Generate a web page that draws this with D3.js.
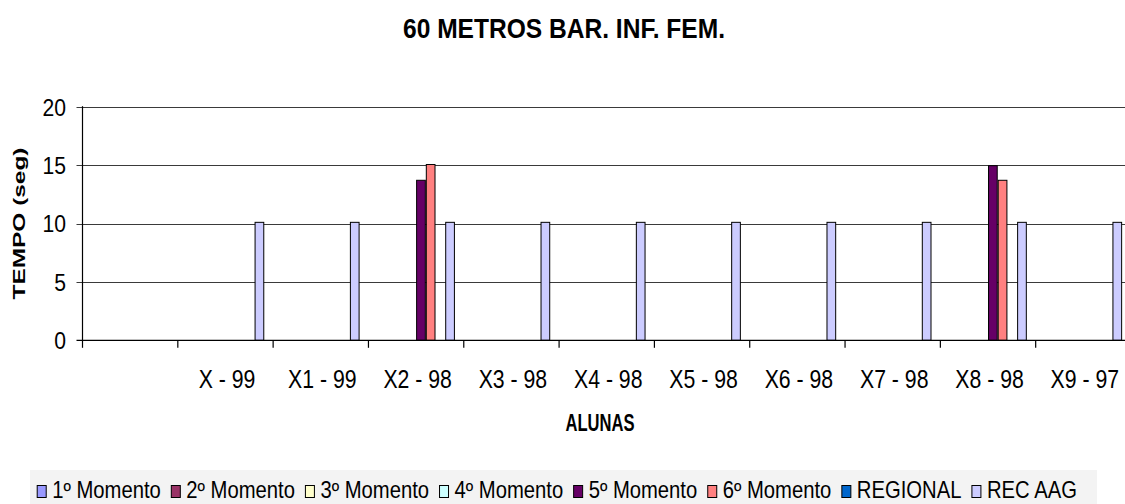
<!DOCTYPE html>
<html>
<head>
<meta charset="utf-8">
<title>60 METROS BAR. INF. FEM.</title>
<script src="https://d3js.org/d3.v7.min.js"></script>
<style>
body { margin: 0; background: #fff; }
text { font-family: 'Liberation Sans', Arial, sans-serif; fill: #000; }
</style>
</head>
<body>
<div id="chart"></div>
<script>
// data
var categories = ["", "X - 99", "X1 - 99", "X2 - 98", "X3 - 98", "X4 - 98", "X5 - 98", "X6 - 98", "X7 - 98", "X8 - 98", "X9 - 97"];
var seriesNames = ["1º Momento", "2º Momento", "3º Momento", "4º Momento", "5º Momento", "6º Momento", "REGIONAL", "REC AAG"];
var seriesColors = ["#9999ff", "#993366", "#ffffcc", "#ccffff", "#660066", "#ff8080", "#0066cc", "#ccccff"];
var m1 = [null, null, null, null, null, null, null, null, null, null, null];
var m2 = [null, null, null, null, null, null, null, null, null, null, null];
var m3 = [null, null, null, null, null, null, null, null, null, null, null];
var m4 = [null, null, null, null, null, null, null, null, null, null, null];
var m5 = [null, null, null, 13.7, null, null, null, null, null, 14.95, null];
var m6 = [null, null, null, 15.05, null, null, null, null, null, 13.7, null];
var regional = [null, null, null, null, null, null, null, null, null, null, null];
var recAAG = [null, 10.1, 10.1, 10.1, 10.1, 10.1, 10.1, 10.1, 10.1, 10.1, 10.1];
var yTicks = [0, 5, 10, 15, 20];

var seriesValues = [m1, m2, m3, m4, m5, m6, regional, recAAG];

var W = 1125, H = 504;
var plot = {left: 82.5, right: 1131, top: 106.7, bottom: 340.3};

var svg = d3.select("#chart").append("svg")
    .attr("width", W)
    .attr("height", H);

var x0 = d3.scaleBand().domain(d3.range(categories.length)).range([plot.left, plot.right]);
var gapHalf = x0.bandwidth() * 0.093;
var x1 = d3.scaleBand().domain(seriesNames).range([gapHalf, x0.bandwidth() - gapHalf]);
var y = d3.scaleLinear().domain([0, 20]).range([plot.bottom, plot.top]);

// title
svg.append("text")
    .attr("x", 564).attr("y", 38.3)
    .attr("text-anchor", "middle")
    .attr("font-size", 28).attr("font-weight", "bold")
    .attr("textLength", 322).attr("lengthAdjust", "spacingAndGlyphs")
    .text("60 METROS BAR. INF. FEM.");

// grid lines
svg.append("g")
  .selectAll("line")
  .data(yTicks.filter(d => d > 0))
  .join("line")
    .attr("x1", plot.left - 6).attr("x2", plot.right)
    .attr("y1", d => Math.round(y(d)) + 0.5).attr("y2", d => Math.round(y(d)) + 0.5)
    .attr("stroke", "#3a3a3a").attr("stroke-width", 1);

// y tick labels
svg.append("g")
  .selectAll("text")
  .data(yTicks)
  .join("text")
    .attr("transform", d => "translate(66," + (y(d) + 8.8) + ") scale(0.92,1)")
    .attr("text-anchor", "end")
    .attr("font-size", 23)
    .text(d => d);

// bars
var groups = svg.append("g")
  .selectAll("g")
  .data(categories)
  .join("g")
    .attr("transform", (d, i) => "translate(" + x0(i) + ",0)");

groups.selectAll("rect")
  .data((d, i) => seriesNames.map((s, j) => ({s: s, c: seriesColors[j], v: seriesValues[j][i]})).filter(b => b.v != null))
  .join("rect")
    .attr("x", b => x1(b.s) + 0.5)
    .attr("width", x1.bandwidth() - 1)
    .attr("y", b => y(b.v))
    .attr("height", b => y(0) - y(b.v))
    .attr("fill", b => b.c)
    .attr("stroke", "#000").attr("stroke-width", 1);

// axes lines
var ax = svg.append("g").attr("stroke", "#000").attr("stroke-width", 1.2);
ax.append("line")
    .attr("x1", plot.left).attr("x2", plot.left)
    .attr("y1", plot.top - 0.5).attr("y2", plot.bottom + 7.5);
ax.append("line")
    .attr("x1", plot.left - 6).attr("x2", plot.right)
    .attr("y1", plot.bottom).attr("y2", plot.bottom);
ax.append("g")
  .selectAll("line")
  .data(d3.range(1, categories.length + 1))
  .join("line")
    .attr("x1", i => i < categories.length ? x0(i) : plot.right)
    .attr("x2", i => i < categories.length ? x0(i) : plot.right)
    .attr("y1", plot.bottom).attr("y2", plot.bottom + 7.5);

// x labels
svg.append("g")
  .selectAll("text")
  .data(categories)
  .join("text")
    .attr("transform", (d, i) => "translate(" + (x0(i) + x0.bandwidth() / 2 + 1.5) + ",388.3) scale(0.85,1)")
    .attr("text-anchor", "middle")
    .attr("font-size", 25)
    .text(d => d);

// axis titles
svg.append("text")
    .attr("transform", "translate(600,430.7) scale(0.72,1)")
    .attr("text-anchor", "middle")
    .attr("font-size", 23).attr("font-weight", "bold")
    .text("ALUNAS");

svg.append("text")
    .attr("transform", "translate(25," + ((plot.top + plot.bottom) / 2) + ") rotate(-90)")
    .attr("text-anchor", "middle")
    .attr("font-size", 17).attr("font-weight", "bold")
    .attr("textLength", 152).attr("lengthAdjust", "spacingAndGlyphs")
    .text("TEMPO (seg)");

// legend
var leg = svg.append("g");
leg.append("rect")
    .attr("x", 30).attr("y", 470)
    .attr("width", 1067).attr("height", 40)
    .attr("fill", "#f3f3f3");

var lx = 36.7;
seriesNames.forEach(function (s, j) {
  leg.append("rect")
      .attr("x", lx + 0.5).attr("y", 485.5)
      .attr("width", 9).attr("height", 12)
      .attr("fill", seriesColors[j])
      .attr("stroke", "#000").attr("stroke-width", 1);
  var t = leg.append("text")
      .attr("transform", "translate(" + (lx + 15.5) + ",498) scale(0.88,1)")
      .attr("font-size", 23)
      .text(s);
  lx += 15.5 + t.node().getComputedTextLength() * 0.88 + 10;
});
</script>
</body>
</html>
